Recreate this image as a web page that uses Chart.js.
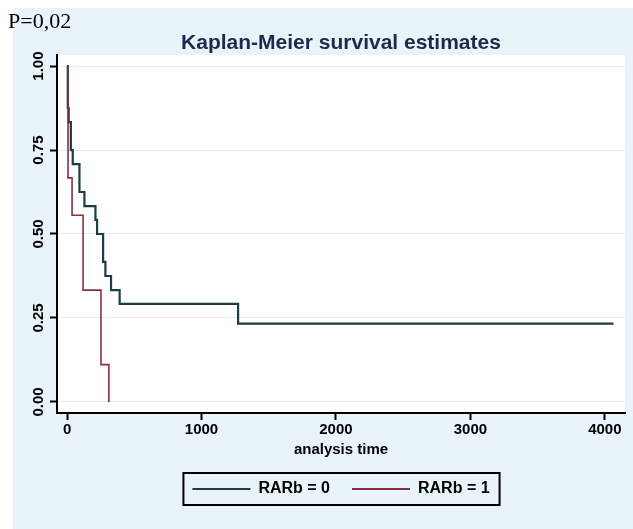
<!DOCTYPE html>
<html><head><meta charset="utf-8">
<script src="https://cdn.jsdelivr.net/npm/chart.js@4.4.0/dist/chart.umd.min.js"></script>
<style>html,body{margin:0;padding:0;background:#fff;}#wrap{width:633px;height:529px;}</style>
</head><body><div id="wrap"><canvas id="c" width="633" height="529"></canvas></div>
<script>
// ---- data ----
const timeRARb0 = [0, 5, 12, 28, 42, 92, 129, 211, 223, 268, 285, 327, 391, 1272, 4065];
const survRARb0 = [1, 0.875, 0.833, 0.75, 0.708, 0.625, 0.583, 0.542, 0.5, 0.417, 0.375, 0.333, 0.292, 0.233, 0.233];
const timeRARb1 = [0, 7, 37, 119, 252, 311];
const survRARb1 = [1, 0.667, 0.556, 0.333, 0.111, 0];
const xTickValues = [0, 1000, 2000, 3000, 4000];
const yTickValues = [0, 0.25, 0.5, 0.75, 1];
const seriesNames = ['RARb = 0', 'RARb = 1'];
const pValueText = 'P=0,02';
const chartTitle = 'Kaplan-Meier survival estimates';
const xAxisTitle = 'analysis time';

const SANS = '"Liberation Sans Narrow", "Liberation Sans", Arial, sans-serif';
const SERIF = '"Liberation Serif", "Times New Roman", serif';
const GREEN = '#1d3e40';
const RED = '#862f44';
const BLUE_BG = '#e9f3fa';

const bgPlugin = {
  id: 'bg',
  beforeDraw(chart) {
    const {ctx, chartArea: a} = chart;
    ctx.save();
    ctx.fillStyle = '#ffffff';
    ctx.fillRect(0, 0, chart.width, chart.height);
    ctx.fillStyle = BLUE_BG;
    ctx.fillRect(13, 8, chart.width - 13, chart.height - 8);
    ctx.fillStyle = '#ffffff';
    ctx.fillRect(a.left, a.top, a.right - a.left, a.bottom - a.top);
    ctx.restore();
  }
};
const legendBoxPlugin = {
  id: 'legendBox',
  afterDraw(chart) {
    const lg = chart.legend;
    if (!lg || !lg.legendHitBoxes || !lg.legendHitBoxes.length) return;
    const hb = lg.legendHitBoxes;
    let l = Infinity, r = -Infinity, t = Infinity, b = -Infinity;
    hb.forEach(h => { l = Math.min(l, h.left); r = Math.max(r, h.left + h.width); t = Math.min(t, h.top); b = Math.max(b, h.top + h.height); });
    const ctx = chart.ctx;
    ctx.save();
    ctx.strokeStyle = '#000';
    ctx.lineWidth = 2;
    ctx.strokeRect(l - 9, t - 8, (r - l) + 19, (b - t) + 16);
    ctx.restore();
  }
};

new Chart(document.getElementById('c'), {
  type: 'line',
  data: {
    datasets: [
      { label: seriesNames[0], data: timeRARb0.map((t, i) => ({x: t, y: survRARb0[i]})), order: 2,
        borderColor: GREEN, backgroundColor: GREEN, borderWidth: 2.2, pointRadius: 0, stepped: 'before', fill: false },
      { label: seriesNames[1], data: timeRARb1.map((t, i) => ({x: t, y: survRARb1[i]})), order: 1,
        borderColor: RED, backgroundColor: RED, borderWidth: 1.6, pointRadius: 0, stepped: 'before', fill: false }
    ]
  },
  options: {
    responsive: false, animation: false, devicePixelRatio: 1,
    layout: { padding: { left: 8, right: 8, top: 0, bottom: 22 } },
    plugins: {
      title: { display: true, text: pValueText, align: 'start', color: '#000', fullSize: true,
        font: { family: SERIF, size: 22, weight: 'normal', lineHeight: 1 }, padding: { top: 11, bottom: 0 } },
      subtitle: { display: true, text: chartTitle, align: 'center', color: '#1c2b4d', fullSize: false,
        font: { family: SANS, size: 21, weight: 'bold', lineHeight: 1 }, padding: { top: 0, bottom: 1 } },
      legend: { display: true, position: 'bottom', fullSize: false,
        labels: { boxWidth: 58, boxHeight: 2, color: '#000', padding: 22,
          font: { family: SANS, size: 16, weight: 'bold' },
          sort: (a, b) => a.datasetIndex - b.datasetIndex,
          generateLabels: (chart) => Chart.defaults.plugins.legend.labels.generateLabels(chart).map(it => Object.assign(it, {lineWidth: 0})) } },
      tooltip: { enabled: false }
    },
    scales: {
      x: { type: 'linear', min: -75, max: 4150,
        afterBuildTicks: s => { s.ticks = xTickValues.map(v => ({value: v})); },
        afterFit: s => { s.height = 46; s.paddingLeft = 0; s.paddingRight = 0; },
        ticks: { color: '#000', padding: 1, maxRotation: 0, autoSkip: false,
          font: { family: SANS, size: 15, weight: 'bold' }, callback: v => String(v) },
        grid: { drawOnChartArea: false, tickLength: 7, tickColor: '#000', tickWidth: 2 },
        border: { display: true, color: '#000', width: 2 },
        title: { display: true, text: xAxisTitle, color: '#000', padding: { top: -3, bottom: 2 },
          font: { family: SANS, size: 15, weight: 'bold', lineHeight: 1 } } },
      y: { type: 'linear', min: -0.033, max: 1.033,
        afterBuildTicks: s => { s.ticks = yTickValues.map(v => ({value: v})); },
        afterFit: s => { s.width = 49; s.paddingTop = 0; s.paddingBottom = 0; },
        ticks: { color: '#000', minRotation: 90, maxRotation: 90, crossAlign: 'center', padding: -3,
          font: { family: SANS, size: 15, weight: 'bold' }, callback: v => Number(v).toFixed(2) },
        grid: { color: '#e1ecf4', lineWidth: 1, tickLength: 7, tickColor: '#000', tickWidth: 2 },
        border: { display: true, color: '#000', width: 2 } }
    }
  },
  plugins: [bgPlugin, legendBoxPlugin]
});
</script></body></html>
